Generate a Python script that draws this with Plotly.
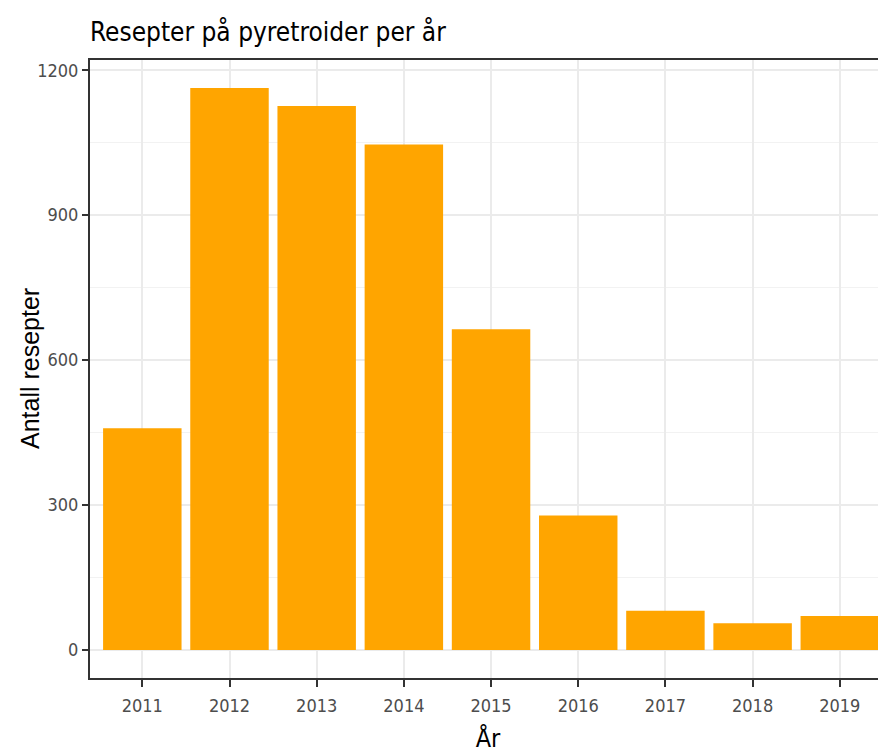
import plotly.graph_objects as go

# data
years = ["2011", "2012", "2013", "2014", "2015", "2016", "2017", "2018", "2019"]
prescriptions = [459, 1163, 1126, 1046, 664, 278, 81, 55, 70]
y_ticks = [0, 300, 600, 900, 1200]

NARROW = "Liberation Sans Narrow, Arial Narrow, DejaVu Sans Condensed, sans-serif"

# ggplot-style 5% expansion of the count axis
y_max = max(prescriptions)
y_range = [-0.05 * y_max, 1.05 * y_max]

fig = go.Figure(
    go.Bar(
        x=years,
        y=prescriptions,
        width=0.9,
        marker=dict(color="#FFA500", line=dict(width=0)),
    )
)

# page body has an 8px margin, so the figure is 8px smaller than the window
fig.update_layout(
    width=878,
    height=745,
    margin=dict(l=82, r=0, t=52, b=75),
    paper_bgcolor="white",
    plot_bgcolor="white",
    showlegend=False,
    title=dict(
        text="Resepter på pyretroider per år",
        x=0, xref="paper", xanchor="left",
        y=1 - 24 / 745, yref="container", yanchor="middle",
        font=dict(family=NARROW, size=26, color="black"),
    ),
    # y title as annotation so it can sit where ggplot put it
    annotations=[
        dict(
            text="Antall resepter",
            textangle=-90,
            x=-60 / 796, xref="paper", xanchor="center",
            y=0.5, yref="paper", yanchor="middle",
            showarrow=False,
            font=dict(family="Liberation Sans, Arial, sans-serif", size=25, color="black"),
        )
    ],
)

fig.update_xaxes(
    type="category",
    range=[-0.6, 8.53],
    showgrid=True, gridcolor="#EBEBEB", gridwidth=1.5,
    showline=True, linecolor="#333333", linewidth=2, mirror=True,
    ticks="outside", ticklen=7, tickwidth=1.5, tickcolor="#333333",
    tickfont=dict(family=NARROW, size=18, color="#4D4D4D"),
    ticklabelstandoff=3,
    title=dict(text="År", standoff=16, font=dict(family=NARROW, size=25, color="black")),
    automargin=False,
    fixedrange=True,
)

fig.update_yaxes(
    range=y_range,
    tickvals=y_ticks,
    showgrid=True, gridcolor="#EBEBEB", gridwidth=1.5,
    minor=dict(dtick=150, tick0=0, showgrid=True, gridcolor="#F2F2F2", gridwidth=1),
    zeroline=False,
    showline=True, linecolor="#333333", linewidth=2,
    ticks="outside", ticklen=6, tickwidth=1.5, tickcolor="#333333",
    tickfont=dict(family=NARROW, size=18, color="#4D4D4D"),
    automargin=False,
    fixedrange=True,
)

fig.write_html("out.html")
